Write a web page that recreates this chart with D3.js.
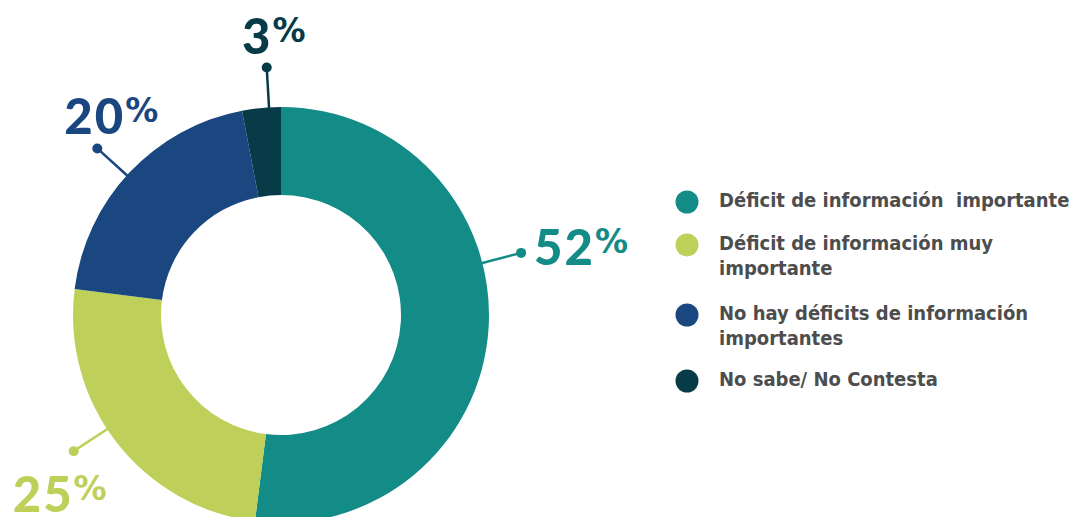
<!DOCTYPE html>
<html>
<head>
<meta charset="utf-8">
<script src="https://cdn.jsdelivr.net/npm/d3@7"></script>
<style>
  body { margin: 0; background: #ffffff; }
  svg { display: block; }
  text { white-space: pre; }
</style>
</head>
<body>
<svg id="chart" width="1073" height="517"></svg>
<script>
// Chart data
const categories = [
    'Déficit de información  importante',
    'Déficit de información muy importante',
    'No hay déficits de información importantes',
    'No sabe/ No Contesta'
];
const values = [52, 25, 20, 3];
const colors = ['#138B87', '#BFD05A', '#1A4780', '#063B47'];

// Legend lines (wrapped as in the original)
const legendLines = [
    ['Déficit de información  importante'],
    ['Déficit de información muy', 'importante'],
    ['No hay déficits de información', 'importantes'],
    ['No sabe/ No Contesta']
];

// Annotation layout: angle shift of the leader from slice middle, label offset from the dot
const leaderShift = [-18.1, 4.5, -1, 2.1];
const labelLayout = [
    { anchor: 'start', dx: 13, dy: 12 },
    { anchor: 'middle', dx: -14, dy: 61 },
    { anchor: 'middle', dx: 14, dy: -14 },
    { anchor: 'middle', dx: 7, dy: -13 }
];

const svg = d3.select('#chart');
const cx = 281, cy = 315;
const outerR = 208, innerR = 120;

const pie = d3.pie().sort(null).value(d => d);
const arcs = pie(values);

const arc = d3.arc()
    .innerRadius(innerR)
    .outerRadius(outerR);

const donut = svg.append('g')
    .attr('transform', `translate(${cx}, ${cy})`);

donut.selectAll('path.slice')
    .data(arcs)
    .enter()
    .append('path')
    .attr('class', 'slice')
    .attr('d', arc)
    .attr('fill', (d, i) => colors[i]);

// Leader lines with dots and percentage labels
const dotR = 248;
function polar(angleDeg, r) {
    const a = angleDeg * Math.PI / 180;
    return [Math.sin(a) * r, -Math.cos(a) * r];
}

arcs.forEach((d, i) => {
    const mid = (d.startAngle + d.endAngle) / 2 * 180 / Math.PI + leaderShift[i];
    const p0 = polar(mid, outerR - 4);
    const p1 = polar(mid, dotR);

    donut.append('line')
        .attr('x1', p0[0]).attr('y1', p0[1])
        .attr('x2', p1[0]).attr('y2', p1[1])
        .attr('stroke', colors[i])
        .attr('stroke-width', 2.5);

    donut.append('circle')
        .attr('cx', p1[0]).attr('cy', p1[1])
        .attr('r', 5)
        .attr('fill', colors[i]);

    const lay = labelLayout[i];
    const label = donut.append('text')
        .attr('x', p1[0] + lay.dx)
        .attr('y', p1[1] + lay.dy)
        .attr('text-anchor', lay.anchor)
        .style('font-weight', 900)
        .style('fill', colors[i]);

    label.append('tspan')
        .style('font-family', 'Lato, "Open Sans", sans-serif')
        .style('font-size', '49px')
        .style('letter-spacing', '2px')
        .text(values[i]);

    label.append('tspan')
        .attr('dy', -12)
        .style('font-family', '"DejaVu Sans", sans-serif')
        .style('font-weight', 'bold')
        .style('font-size', '33px')
        .text('%');
});

// Legend
const legend = svg.append('g')
    .attr('transform', 'translate(687, 0)');

const legendY = [202, 245, 315, 381];

legendLines.forEach((lines, i) => {
    const g = legend.append('g')
        .attr('transform', `translate(0, ${legendY[i]})`);

    g.append('circle')
        .attr('r', 11.5)
        .attr('fill', colors[i]);

    const t = g.append('text')
        .attr('x', 32)
        .attr('y', 5)
        .style('font-family', '"DejaVu Sans Condensed", "DejaVu Sans", sans-serif')
        .style('font-weight', 'bold')
        .style('font-size', '20px')
        .style('fill', '#4D4D4D');

    lines.forEach((line, j) => {
        t.append('tspan')
            .attr('x', 32)
            .attr('dy', j === 0 ? 0 : 25)
            .text(line);
    });
});
</script>
</body>
</html>
